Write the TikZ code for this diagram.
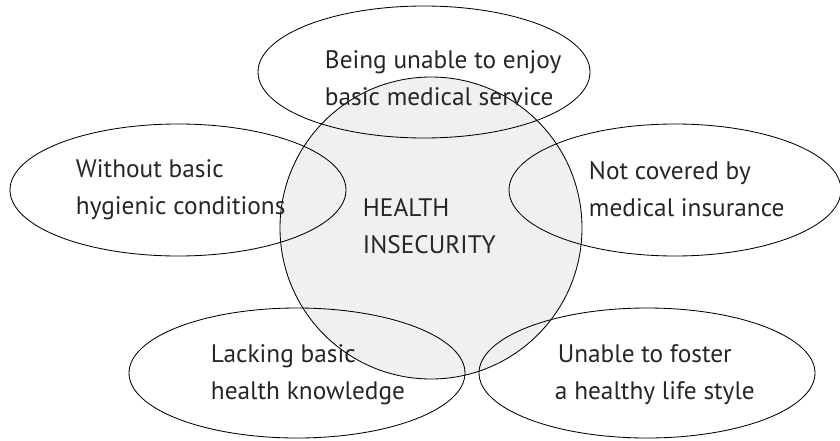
\documentclass[tikz,border=0pt]{standalone}
\usepackage{fontspec}
\setmainfont{PT Sans}
\definecolor{coregray}{HTML}{F0F0F0}
\definecolor{inkgray}{HTML}{262626}
\tikzset{
  factor/.style={draw=black, line width=0.6pt},
  factorlbl/.style={anchor=west, align=left, text=inkgray, font=\fontsize{18}{26.5}\selectfont},
}
\begin{document}
\begin{tikzpicture}[x=0.025cm, y=-0.025cm]
\useasboundingbox (0,0) rectangle (840,440);

% Health insecurity at center
\filldraw[factor, fill=coregray] (431,228) circle (151);

% Surrounding factors
\draw[factor] (424,72) ellipse (166 and 66);
\draw[factor] (178,190) ellipse (168 and 66);
\draw[factor] (675,190) ellipse (166 and 66);
\draw[factor] (297,373) ellipse (168 and 65);
\draw[factor] (647,373) ellipse (168 and 65);

% Labels
\node[factorlbl] (core) at (358,226) {HEALTH\\INSECURITY};
\node[factorlbl] (medical) at (320,78) {Being unable to enjoy\\basic medical service};
\node[factorlbl] (hygiene) at (71,190) {Without basic\\hygienic conditions};
\node[factorlbl] (insurance) at (584,189) {Not covered by\\medical insurance};
\node[factorlbl] (knowledge) at (206,375) {Lacking basic\\health knowledge};
\node[factorlbl] (lifestyle) at (550,375) {\hspace{5\pgflinewidth}Unable to foster\\a healthy life style};

\end{tikzpicture}
\end{document}
